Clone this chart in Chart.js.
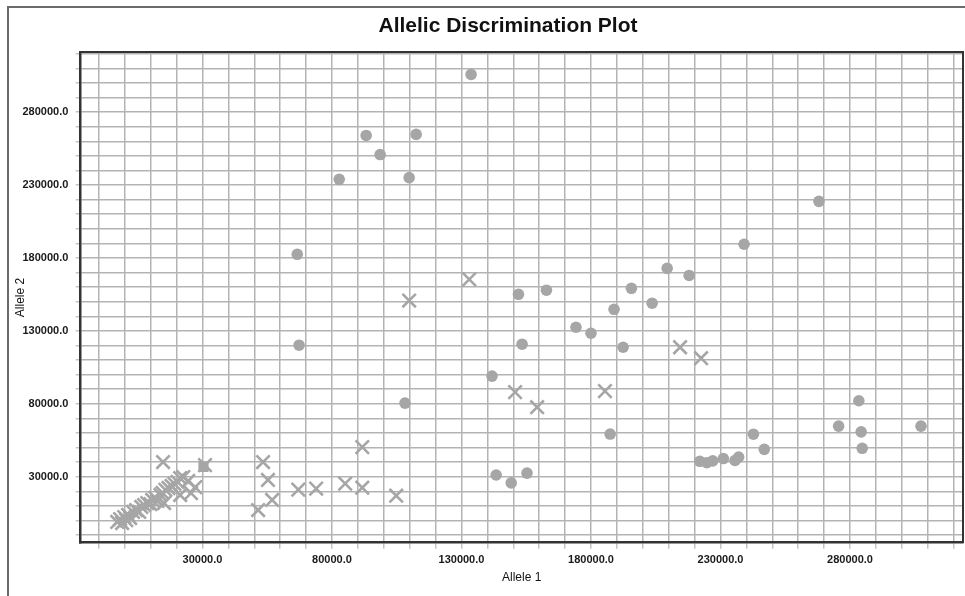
<!DOCTYPE html>
<html>
<head>
<meta charset="utf-8">
<script src="https://cdn.jsdelivr.net/npm/chart.js@4/dist/chart.umd.min.js"></script>
<style>
  html, body { margin: 0; padding: 0; background: #fff; overflow: hidden; }
  #wrap { position: relative; width: 1016px; height: 596px; }
  #frame { position: absolute; left: 7px; top: 6px; right: 0; bottom: -5px; border-left: 2px solid #6a6a6a; border-top: 2px solid #6a6a6a; }
</style>
</head>
<body>
<div id="wrap">
  <canvas id="myChart" width="1016" height="596"></canvas>
  <div id="frame"></div>
</div>
<script>
// axis ranges
const xRange = [-17000, 323500];
const yRange = [-15200, 321000];
const gridStep = 10000;
const labelledTicks = [30000, 80000, 130000, 180000, 230000, 280000];

// filled circles [allele 1, allele 2]
const circlePoints = [
  [133700, 305800], [93200, 264000], [112500, 264700], [98600, 250900], [82800, 233900], [109800, 235100],
  [268000, 218800], [239100, 189400], [66600, 182500], [209400, 172900], [217900, 168000], [195600, 159200],
  [162800, 157900], [152000, 155100], [203600, 149000], [188900, 144800], [174200, 132500], [180000, 128400],
  [67300, 120200], [153400, 120900], [192400, 118800], [141800, 99000], [108200, 80500], [283400, 82100],
  [275600, 64700], [307400, 64700], [187400, 59300], [242700, 59200], [284300, 60800], [246900, 48800],
  [284700, 49500], [222000, 40600], [224700, 39600], [227000, 40900], [231100, 42500], [235600, 41200],
  [237000, 43500], [143400, 31200], [149200, 25800], [155300, 32500]
];

// crosses [allele 1, allele 2]
const crossPoints = [
  [133000, 165300], [109800, 150800], [214400, 118800], [222500, 111300], [150700, 88000], [159200, 77700],
  [185400, 88700], [91700, 50300], [53400, 40100], [55300, 27800], [56900, 14100], [51500, 7200],
  [67000, 21200], [73900, 21900], [85100, 25300], [91700, 22500], [104800, 17000],
  // cluster near the origin
  [-2900, -1000], [-1800, 1000], [-1000, -1700], [-200, 2400], [600, 300], [1300, 3800], [2100, 1700],
  [3200, 5900], [4400, 7200], [5600, 5900], [6400, 9300], [7500, 10600], [8700, 12000], [9900, 11300],
  [10600, 14100], [11800, 15500], [12600, 13400], [13800, 17500], [14600, 18900], [15700, 21000],
  [16900, 22300], [18100, 23700], [19200, 25100], [20400, 26500], [21400, 29100],
  [14800, 40100], [31000, 38000], [22600, 29800], [24500, 27100], [27200, 22900], [25600, 18800],
  [21400, 17500], [15200, 12000]
];

// square
const squarePoints = [[30400, 36800]];

function toXY(arr) {
  return arr.map(p => ({ x: p[0], y: p[1] }));
}

function gridTicks(scale) {
  const t = [];
  for (let v = Math.ceil(scale.min / gridStep) * gridStep; v <= scale.max; v += gridStep) {
    t.push({ value: v });
  }
  scale.ticks = t;
}

function tickLabel(v) {
  return labelledTicks.includes(v) ? v.toFixed(1) : '';
}

const tickFont = { family: 'Liberation Sans', size: 11, weight: 'bold' };
const gridColor = '#b3b3b3';
const markColor = '#a6a6a6';

const ctx = document.getElementById('myChart').getContext('2d');
const myChart = new Chart(ctx, {
  type: 'scatter',
  data: {
    datasets: [
      {
        label: 'circles',
        data: toXY(circlePoints),
        pointStyle: 'circle',
        pointRadius: 5.8,
        backgroundColor: markColor,
        borderColor: markColor,
        borderWidth: 0
      },
      {
        label: 'crosses',
        data: toXY(crossPoints),
        pointStyle: 'crossRot',
        pointRadius: 9.5,
        backgroundColor: markColor,
        borderColor: markColor,
        borderWidth: 2.6
      },
      {
        label: 'square',
        data: toXY(squarePoints),
        pointStyle: 'rect',
        pointRadius: 7.2,
        backgroundColor: markColor,
        borderColor: markColor,
        borderWidth: 0
      }
    ]
  },
  options: {
    responsive: false,
    animation: false,
    events: [],
    layout: { padding: 0 },
    plugins: {
      legend: { display: false },
      tooltip: { enabled: false },
      title: {
        display: true,
        text: 'Allelic Discrimination Plot',
        color: '#111',
        font: { family: 'Liberation Sans', size: 21, weight: 'bold' },
        padding: { top: 13.4, bottom: 13.7 }
      }
    },
    scales: {
      x: {
        type: 'linear',
        position: 'bottom',
        min: xRange[0],
        max: xRange[1],
        afterBuildTicks: gridTicks,
        afterFit: s => { s.height = 53.3; },
        ticks: { autoSkip: false, maxRotation: 0, color: '#1a1a1a', font: tickFont, padding: 5, callback: tickLabel },
        grid: { color: gridColor, lineWidth: 1.5, tickLength: 6, tickColor: '#c4c4c4' },
        border: { display: true, color: '#333', width: 2.5 },
        title: { display: true, text: 'Allele 1', color: '#111', font: { family: 'Liberation Sans', size: 12 }, padding: { top: 0, bottom: 10.8 } }
      },
      y: {
        type: 'linear',
        position: 'left',
        min: yRange[0],
        max: yRange[1],
        afterBuildTicks: gridTicks,
        afterFit: s => { s.width = 80.7; },
        ticks: { autoSkip: false, color: '#1a1a1a', font: tickFont, padding: 7.4, callback: tickLabel },
        grid: { color: gridColor, lineWidth: 1.5, tickLength: 5, tickColor: '#c4c4c4' },
        border: { display: true, color: '#333', width: 2.5 },
        title: { display: true, text: 'Allele 2', color: '#111', font: { family: 'Liberation Sans', size: 12 }, padding: { top: 13.8, bottom: 0 } }
      },
      // frame lines on the top and right of the plot
      xTop: {
        type: 'linear',
        position: 'top',
        min: xRange[0],
        max: xRange[1],
        afterFit: s => { s.height = 0; },
        ticks: { display: false },
        grid: { display: false },
        border: { display: true, color: '#333', width: 2 }
      },
      yRight: {
        type: 'linear',
        position: 'right',
        min: yRange[0],
        max: yRange[1],
        afterFit: s => { s.width = 53.3; },
        ticks: { display: false },
        grid: { display: false },
        border: { display: true, color: '#333', width: 2 }
      }
    }
  }
});
</script>
</body>
</html>
